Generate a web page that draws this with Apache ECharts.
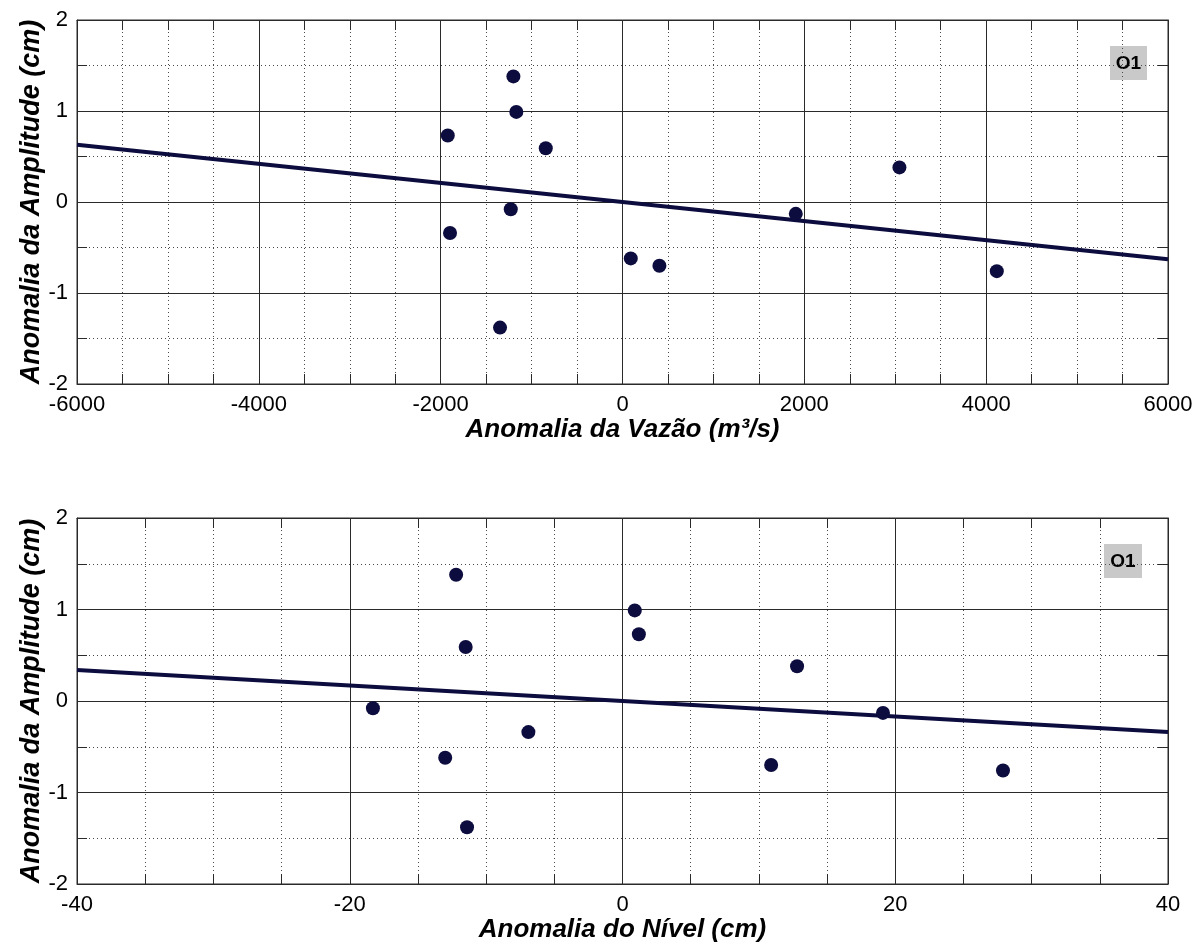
<!DOCTYPE html>
<html>
<head>
<meta charset="utf-8">
<script src="https://cdn.jsdelivr.net/npm/echarts@6/dist/echarts.min.js"></script>
<style>
  html, body { margin: 0; padding: 0; background: #ffffff; }
  #chart { width: 1197px; height: 952px; }
</style>
</head>
<body>
<div id="chart"></div>
<script>
// Amplitude anomaly of constituent O1 against discharge and water-level anomalies
const amplitude = [1.38, 0.99, 0.73, 0.59, -0.08, -0.34, -0.62, -0.70, -1.38, -0.13, 0.38, -0.76];
const vazao     = [-1200, -1168, -1922, -844, -1229, -1897, 91, 406, -1347, 1906, 3046, 4117];
const nivel     = [-12.2, 0.9, 1.2, -11.5, -18.3, -6.9, -13.0, 10.9, -11.4, 19.1, 12.8, 27.9];

// Fitted regression lines (end points)
const vazaoTrendX = [-6000, 6000];
const vazaoTrendY = [0.63, -0.63];
const nivelTrendX = [-40, 40];
const nivelTrendY = [0.34, -0.34];

// Axis ranges and ticks
const vazaoRange = { min: -6000, max: 6000, interval: 2000, minorSplit: 4 };
const nivelRange = { min: -40, max: 40, interval: 20, minorSplit: 4 };
const ampRange   = { min: -2, max: 2, interval: 1, minorSplit: 2 };

const panelLabel = 'O1';
const xTitles = ['Anomalia da Vazão (m³/s)', 'Anomalia do Nível (cm)'];
const yTitle = 'Anomalia da Amplitude (cm)';

const FONT = '"Liberation Sans", Arial, Helvetica, sans-serif';
const INK = '#0c0c3e';
const GRID_SOLID = '#2a2a2a';
const GRID_DOT = '#4a4a4a';

function pairs(xs, ys) { return xs.map((x, i) => [x, ys[i]]); }
const plain = v => String(v);

function mainX(gridIndex, r, title) {
  return {
    type: 'value', gridIndex, position: 'bottom',
    min: r.min, max: r.max, interval: r.interval,
    axisLine: { show: true, onZero: false, lineStyle: { color: GRID_SOLID, width: 1 } },
    axisTick: { show: true, inside: true, length: 10, lineStyle: { color: GRID_SOLID } },
    minorTick: { show: true, splitNumber: r.minorSplit, length: 10, lineStyle: { color: GRID_SOLID } },
    splitLine: { show: true, lineStyle: { color: GRID_SOLID, width: 1 } },
    minorSplitLine: { show: true, lineStyle: { color: GRID_DOT, width: 1, type: [1, 3] } },
    axisLabel: { show: true, color: '#000', fontFamily: FONT, fontSize: 22, margin: 10, formatter: plain },
    name: title, nameLocation: 'middle', nameGap: 33, nameMoveOverlap: false,
    nameTextStyle: { color: '#000', fontFamily: FONT, fontSize: 26, fontWeight: 'bold', fontStyle: 'italic', verticalAlign: 'top' }
  };
}
function mirrorX(gridIndex, r) {
  return {
    type: 'value', gridIndex, position: 'top',
    min: r.min, max: r.max, interval: r.interval,
    axisLine: { show: true, onZero: false, lineStyle: { color: GRID_SOLID, width: 1 } },
    axisTick: { show: true, inside: true, length: 10, lineStyle: { color: GRID_SOLID } },
    minorTick: { show: true, splitNumber: r.minorSplit, length: 10, lineStyle: { color: GRID_SOLID } },
    splitLine: { show: false }, minorSplitLine: { show: false },
    axisLabel: { show: false }
  };
}
function mainY(gridIndex, r) {
  return {
    type: 'value', gridIndex, position: 'left',
    min: r.min, max: r.max, interval: r.interval,
    axisLine: { show: true, onZero: false, lineStyle: { color: GRID_SOLID, width: 1 } },
    axisTick: { show: true, inside: true, length: 10, lineStyle: { color: GRID_SOLID } },
    minorTick: { show: true, splitNumber: r.minorSplit, length: 10, lineStyle: { color: GRID_SOLID } },
    splitLine: { show: true, lineStyle: { color: GRID_SOLID, width: 1 } },
    minorSplitLine: { show: true, lineStyle: { color: GRID_DOT, width: 1, type: [1, 3] } },
    axisLabel: { show: true, color: '#000', fontFamily: FONT, fontSize: 22, margin: 9, formatter: plain },
    name: yTitle, nameLocation: 'middle', nameGap: 32, nameMoveOverlap: false,
    nameTextStyle: { color: '#000', fontFamily: FONT, fontSize: 27, fontWeight: 'bold', fontStyle: 'italic' }
  };
}
function mirrorY(gridIndex, r) {
  return {
    type: 'value', gridIndex, position: 'right',
    min: r.min, max: r.max, interval: r.interval,
    axisLine: { show: true, onZero: false, lineStyle: { color: GRID_SOLID, width: 1 } },
    axisTick: { show: true, inside: true, length: 10, lineStyle: { color: GRID_SOLID } },
    minorTick: { show: true, splitNumber: r.minorSplit, length: 10, lineStyle: { color: GRID_SOLID } },
    splitLine: { show: false }, minorSplitLine: { show: false },
    axisLabel: { show: false }
  };
}

function scatter(xi, yi, xs) {
  return {
    type: 'scatter', xAxisIndex: xi, yAxisIndex: yi,
    data: pairs(xs, amplitude), symbol: 'circle', symbolSize: 14,
    itemStyle: { color: INK, opacity: 1 }, z: 4, silent: true
  };
}
function trend(xi, yi, xs, ys) {
  return {
    type: 'line', xAxisIndex: xi, yAxisIndex: yi,
    data: pairs(xs, ys), showSymbol: false, symbol: 'none',
    lineStyle: { color: INK, width: 4 }, z: 3, silent: true
  };
}

function tag(x, y, w, h) {
  return {
    type: 'group', left: x, top: y, z: 10,
    children: [
      { type: 'rect', shape: { x: 0, y: 0, width: w, height: h }, style: { fill: '#c9c9c9' } },
      { type: 'text', x: w / 2, y: h / 2 + 1,
        style: { text: panelLabel, fill: '#000', font: 'bold 19px ' + FONT, textAlign: 'center', textVerticalAlign: 'middle' } }
    ]
  };
}

const chart = echarts.init(document.getElementById('chart'), null, { renderer: 'canvas' });
chart.setOption({
  backgroundColor: '#ffffff',
  animation: false,
  grid: [
    { left: 77, top: 20, width: 1091, height: 364, show: true, borderColor: GRID_SOLID, borderWidth: 1, containLabel: false },
    { left: 77, top: 518, width: 1091, height: 366, show: true, borderColor: GRID_SOLID, borderWidth: 1, containLabel: false }
  ],
  xAxis: [
    mainX(0, vazaoRange, xTitles[0]), mirrorX(0, vazaoRange),
    mainX(1, nivelRange, xTitles[1]), mirrorX(1, nivelRange)
  ],
  yAxis: [
    mainY(0, ampRange), mirrorY(0, ampRange),
    mainY(1, ampRange), mirrorY(1, ampRange)
  ],
  series: [
    trend(0, 0, vazaoTrendX, vazaoTrendY),
    scatter(0, 0, vazao),
    trend(2, 2, nivelTrendX, nivelTrendY),
    scatter(2, 2, nivel)
  ],
  graphic: [
    tag(1110, 46, 37, 34),
    tag(1104, 544, 38, 34)
  ]
});
</script>
</body>
</html>
